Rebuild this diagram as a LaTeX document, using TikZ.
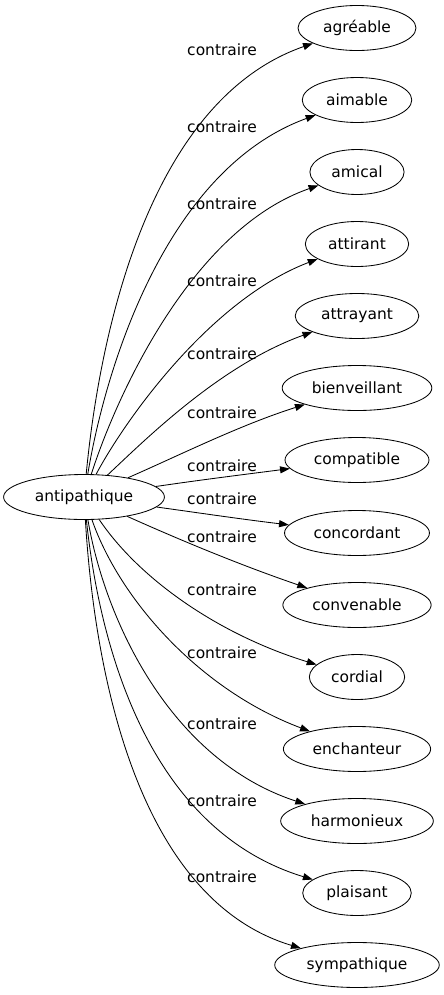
\documentclass[tikz,border=0pt]{standalone}
\usepackage{fontspec}
\setmainfont{DejaVu Sans}
\usetikzlibrary{shapes.geometric,arrows.meta}

\begin{document}
\begin{tikzpicture}[x=0.025cm, y=-0.025cm,
    mot/.style={ellipse, draw, line width=0.6pt, inner xsep=5.5pt, inner ysep=0pt,
                minimum height=32pt, font=\fontsize{11}{13}\selectfont},
    rel/.style={font=\fontsize{11}{13}\selectfont, inner sep=0pt},
    fleche/.style={-{Triangle[length=7pt,width=5pt]}, line width=0.6pt}]
    % --- paramètres ---
    \def\X{357}   % x des mots cibles
    \def\L{222}   % x des étiquettes

    \useasboundingbox (0,0) rectangle (443,995);

    % --- mot source ---
    \node[mot] (anti) at (84,497) {antipathique};

    % --- mots cibles ---
    \node[mot] (agreable)   at (\X,28)  {agréable};
    \node[mot] (aimable)    at (\X,100) {aimable};
    \node[mot] (amical)     at (\X,172) {amical};
    \node[mot] (attirant)   at (\X,244) {attirant};
    \node[mot] (attrayant)  at (\X,316) {attrayant};
    \node[mot] (bienv)      at (\X,388) {bienveillant};
    \node[mot] (compatible) at (\X,460) {compatible};
    \node[mot] (concordant) at (\X,533) {concordant};
    \node[mot] (convenable) at (\X,605) {convenable};
    \node[mot] (cordial)    at (\X,677) {cordial};
    \node[mot] (enchanteur) at (\X,749) {enchanteur};
    \node[mot] (harmonieux) at (\X,821) {harmonieux};
    \node[mot] (plaisant)   at (\X,893) {plaisant};
    \node[mot] (sympa)      at (\X,965) {sympathique};

    % --- étiquettes ---
    \node[rel] (r1)  at (\L,50)  {contraire};
    \node[rel] (r2)  at (\L,127) {contraire};
    \node[rel] (r3)  at (\L,204) {contraire};
    \node[rel] (r4)  at (\L,281) {contraire};
    \node[rel] (r5)  at (\L,354) {contraire};
    \node[rel] (r6)  at (\L,413) {contraire};
    \node[rel] (r7)  at (\L,466) {contraire};
    \node[rel] (r8)  at (\L,499) {contraire};
    \node[rel] (r9)  at (\L,537) {contraire};
    \node[rel] (r10) at (\L,590) {contraire};
    \node[rel] (r11) at (\L,653) {contraire};
    \node[rel] (r12) at (\L,724) {contraire};
    \node[rel] (r13) at (\L,801) {contraire};
    \node[rel] (r14) at (\L,877) {contraire};

    % --- arcs ---
    \draw[fleche] (anti) .. controls (100,330) and (150,100) .. (agreable);
    \draw[fleche] (anti) .. controls (105,370) and (165,170) .. (aimable);
    \draw[fleche] (anti) .. controls (115,400) and (190,230) .. (amical);
    \draw[fleche] (anti) .. controls (125,420) and (210,300) .. (attirant);
    \draw[fleche] (anti) .. controls (145,440) and (220,365) .. (attrayant);
    \draw[fleche] (anti) .. controls (180,455) and (240,425) .. (bienv);
    \draw[fleche] (anti) .. controls (200,480) and (240,475) .. (compatible);
    \draw[fleche] (anti) .. controls (200,513) and (240,519) .. (concordant);
    \draw[fleche] (anti) .. controls (180,540) and (240,565) .. (convenable);
    \draw[fleche] (anti) .. controls (140,580) and (220,635) .. (cordial);
    \draw[fleche] (anti) .. controls (120,600) and (200,690) .. (enchanteur);
    \draw[fleche] (anti) .. controls (105,620) and (170,760) .. (harmonieux);
    \draw[fleche] (anti) .. controls (100,650) and (150,830) .. (plaisant);
    \draw[fleche] (anti) .. controls (95,680) and (140,900) .. (sympa);

\end{tikzpicture}
\end{document}
